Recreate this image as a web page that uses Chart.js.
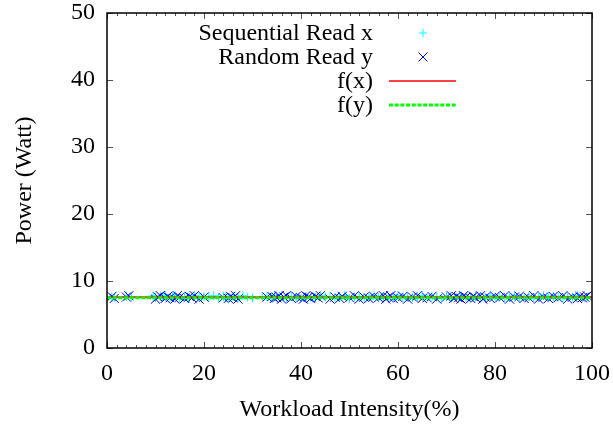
<!DOCTYPE html>
<html>
<head>
<meta charset="utf-8">
<script src="https://cdn.jsdelivr.net/npm/chart.js@4"></script>
<style>
html,body{margin:0;padding:0;background:#fff;}
#wrap{width:613px;height:428px;}
</style>
</head>
<body>
<div id="wrap"><canvas id="c" width="613" height="428"></canvas></div>
<script>
// ---- data ----
const xTicks = [0, 20, 40, 60, 80, 100];
const yTicks = [0, 10, 20, 30, 40, 50];
const seqX = [1, 1.5, 4, 5, 9.5, 10, 11, 11.5, 12, 13, 13.5, 14, 15, 16, 16.5, 17, 18, 19, 19.5, 20,
  21, 22, 23, 24, 24.5, 25, 26, 27, 28, 29, 30, 32, 33, 34, 34.5,
  35, 36, 37, 38, 39, 40, 41, 42, 43, 44, 45, 46, 47, 48, 49, 50, 51, 52, 53, 54, 55, 56, 57, 58, 59,
  60, 61, 62, 63, 64, 65, 66, 67, 68, 69, 70, 71, 72, 73, 74, 75, 76, 77, 78, 79, 80, 81, 82, 83, 84,
  85, 86, 87, 88, 89, 90, 91, 92, 93, 94, 95, 96, 97, 98, 99];
const seqY = [7.6, 7.5, 7.7, 7.6, 7.8, 7.5, 7.7, 7.6, 7.9, 7.5,
  7.6, 7.8, 7.4, 7.6, 7.7, 7.5, 7.8, 7.6, 7.5, 7.7,
  7.6, 7.8, 7.5, 7.7, 7.6, 7.4, 7.7, 7.5, 7.8, 7.6,
  7.5, 7.7, 7.6, 7.5, 7.8, 7.6, 7.7, 7.5, 7.7, 7.6,
  7.4, 7.7, 7.6, 7.5, 7.8, 7.6, 7.7, 7.5, 7.6, 7.8,
  7.4, 7.6, 7.7, 7.5, 7.6, 7.8, 7.5, 7.7, 7.6, 7.5,
  7.8, 7.6, 7.7, 7.5, 7.6, 7.8, 7.5, 7.7, 7.6, 7.4,
  7.7, 7.5, 7.6, 7.8, 7.6, 7.5, 7.7, 7.6, 7.5, 7.8,
  7.6, 7.7, 7.5, 7.6, 7.8, 7.4, 7.6, 7.7, 7.5, 7.6,
  7.8, 7.5, 7.7, 7.6, 7.5, 7.7, 7.6, 7.8, 7.5, 7.6];
const randX = [1, 1.5, 4, 4.5, 10, 10.5, 11, 12, 12.5, 13, 14, 14.5, 15, 16, 17, 17.5, 18, 19, 20, 24,
  25, 25.5, 26, 26.5, 27, 33, 34, 34.5, 35, 35.5, 36, 36.5, 37, 38, 39, 40, 40.5, 41, 41.5, 42,
  43, 43.5, 44, 46, 47, 48, 48.5, 50, 51, 52, 53, 54, 55, 56, 57, 57.5, 58, 58.5, 59, 60,
  61, 62, 63, 64, 65, 66, 67, 68, 70, 71, 71.5, 72, 72.5, 73, 73.5, 74, 75, 75.5, 76, 77,
  77.5, 78, 79, 80, 81, 82, 83, 84, 85, 86, 87, 88, 89, 90, 91, 92, 93, 94, 95, 96,
  97, 97.5, 98, 98.5, 99];
const randY = [7.7, 7.4, 7.6, 7.8, 7.3, 7.6, 7.8, 7.4, 7.7, 7.5,
  7.3, 7.8, 7.6, 7.4, 7.7, 7.5, 7.8, 7.3, 7.6, 7.5,
  7.4, 7.7, 7.5, 7.8, 7.3, 7.6, 7.7, 7.4, 7.5, 7.8,
  7.3, 7.6, 7.8, 7.4, 7.7, 7.5, 7.3, 7.8, 7.6, 7.4,
  7.7, 7.5, 7.8, 7.3, 7.6, 7.4, 7.7, 7.5, 7.8, 7.3,
  7.6, 7.4, 7.7, 7.5, 7.8, 7.3, 7.6, 7.8, 7.4, 7.5,
  7.7, 7.3, 7.6, 7.8, 7.4, 7.5, 7.7, 7.3, 7.6, 7.8,
  7.4, 7.7, 7.5, 7.3, 7.8, 7.6, 7.4, 7.7, 7.5, 7.8,
  7.3, 7.6, 7.4, 7.7, 7.5, 7.8, 7.3, 7.6, 7.7, 7.4,
  7.5, 7.8, 7.3, 7.6, 7.4, 7.7, 7.5, 7.8, 7.3, 7.6,
  7.4, 7.7, 7.5, 7.6, 7.8];
const fxLevel = 7.6;
const fyLevel = 7.5;
const labels = ["Sequential Read x", "Random Read y", "f(x)", "f(y)"];

const FONT = "'Liberation Serif', 'DejaVu Serif', serif";
const FS = 24;

function pts(xs, ys) { return xs.map((x, i) => ({x: x, y: ys[i]})); }

function noPad(s) { s.paddingLeft = 0; s.paddingRight = 0; s.paddingTop = 0; s.paddingBottom = 0; }

const framePlugin = {
  id: 'frame',
  afterDatasetsDraw(chart) {
    const ctx = chart.ctx, a = chart.chartArea;
    const xs = chart.scales.x, ys = chart.scales.y;
    ctx.save();
    ctx.strokeStyle = '#555';
    ctx.lineWidth = 1;
    ctx.beginPath();
    for (let v = 0; v <= 100; v += 2) {
      const px = Math.round(xs.getPixelForValue(v)) + 0.5;
      const len = (v % 20 === 0) ? 6 : 3;
      ctx.moveTo(px, a.bottom); ctx.lineTo(px, a.bottom - len);
      ctx.moveTo(px, a.top); ctx.lineTo(px, a.top + len);
    }
    for (let v = 0; v <= 50; v += 10) {
      const py = Math.round(ys.getPixelForValue(v)) + 0.5;
      ctx.moveTo(a.left, py); ctx.lineTo(a.left + 6, py);
      ctx.moveTo(a.right, py); ctx.lineTo(a.right - 6, py);
    }
    ctx.stroke();
    ctx.strokeStyle = '#000';
    ctx.lineWidth = 1.5;
    ctx.strokeRect(a.left, a.top, a.right - a.left, a.bottom - a.top);
    ctx.restore();
  }
};

const legendPlugin = {
  id: 'gpLegend',
  afterDraw(chart) {
    const ctx = chart.ctx;
    const ds = chart.data.datasets;
    const textRight = 373, sx0 = 389, sx1 = 456, sc = 423;
    const rows = [33, 57, 81, 105];
    ctx.save();
    ctx.font = FS + "px " + FONT;
    ctx.fillStyle = '#000';
    ctx.textAlign = 'right';
    ctx.textBaseline = 'middle';
    ds.forEach((d, i) => {
      const y = rows[i];
      ctx.fillText(d.label, textRight, y + 1);
      if (d.type === 'line') {
        ctx.strokeStyle = d.borderColor;
        ctx.lineWidth = d.borderWidth;
        ctx.setLineDash(d.borderDash || []);
        ctx.beginPath(); ctx.moveTo(sx0, y); ctx.lineTo(sx1, y); ctx.stroke();
        ctx.setLineDash([]);
      } else {
        ctx.strokeStyle = d.borderColor;
        ctx.lineWidth = 1;
        ctx.beginPath();
        if (d.pointStyle === 'cross') {
          const r = 4;
          ctx.moveTo(sc - r, y); ctx.lineTo(sc + r, y);
          ctx.moveTo(sc, y - r); ctx.lineTo(sc, y + r);
        } else {
          const q = 4.5;
          ctx.moveTo(sc - q, y - q); ctx.lineTo(sc + q, y + q);
          ctx.moveTo(sc - q, y + q); ctx.lineTo(sc + q, y - q);
        }
        ctx.stroke();
      }
    });
    ctx.restore();
  }
};

new Chart(document.getElementById('c'), {
  type: 'scatter',
  data: {
    datasets: [
      {label: labels[0], type: 'scatter', data: pts(seqX, seqY), pointStyle: 'cross', radius: 4.5,
       borderColor: '#00ffff', backgroundColor: '#00ffff', borderWidth: 1, order: 4},
      {label: labels[1], type: 'scatter', data: pts(randX, randY), pointStyle: 'crossRot', radius: 6.5,
       borderColor: '#0000ff', backgroundColor: '#0000ff', borderWidth: 1, order: 3},
      {label: labels[2], type: 'line', data: [{x: 0, y: fxLevel}, {x: 100, y: fxLevel}], borderColor: '#ff0000',
       borderWidth: 1.5, pointRadius: 0, fill: false, order: 2},
      {label: labels[3], type: 'line', data: [{x: 0, y: fyLevel}, {x: 100, y: fyLevel}], borderColor: '#00ff00',
       borderWidth: 3, borderDash: [4, 1.7], pointRadius: 0, fill: false, order: 1}
    ]
  },
  options: {
    responsive: false,
    animation: false,
    events: [],
    layout: {padding: {top: 13, right: 21, left: 0, bottom: 0}},
    plugins: {legend: {display: false}, tooltip: {enabled: false}},
    scales: {
      x: {
        type: 'linear', min: 0, max: 100,
        afterBuildTicks(s) { s.ticks = xTicks.map(v => ({value: v})); },
        afterFit(s) { s.height = 80; noPad(s); },
        grid: {display: false, drawTicks: false},
        border: {display: false},
        ticks: {color: '#000', font: {family: FONT, size: FS}, padding: 11, maxRotation: 0},
        title: {display: true, text: 'Workload Intensity(%)', color: '#000', font: {family: FONT, size: FS}, padding: {top: 4, bottom: 3.6}}
      },
      y: {
        type: 'linear', min: 0, max: 50,
        afterBuildTicks(s) { s.ticks = yTicks.map(v => ({value: v})); },
        afterFit(s) { s.width = 107; noPad(s); },
        grid: {display: false, drawTicks: false},
        border: {display: false},
        ticks: {color: '#000', font: {family: FONT, size: FS}, padding: 12},
        title: {display: true, text: 'Power (Watt)', color: '#000', font: {family: FONT, size: FS}, padding: {top: 10.6, bottom: 4}}
      }
    }
  },
  plugins: [framePlugin, legendPlugin]
});
</script>
</body>
</html>
